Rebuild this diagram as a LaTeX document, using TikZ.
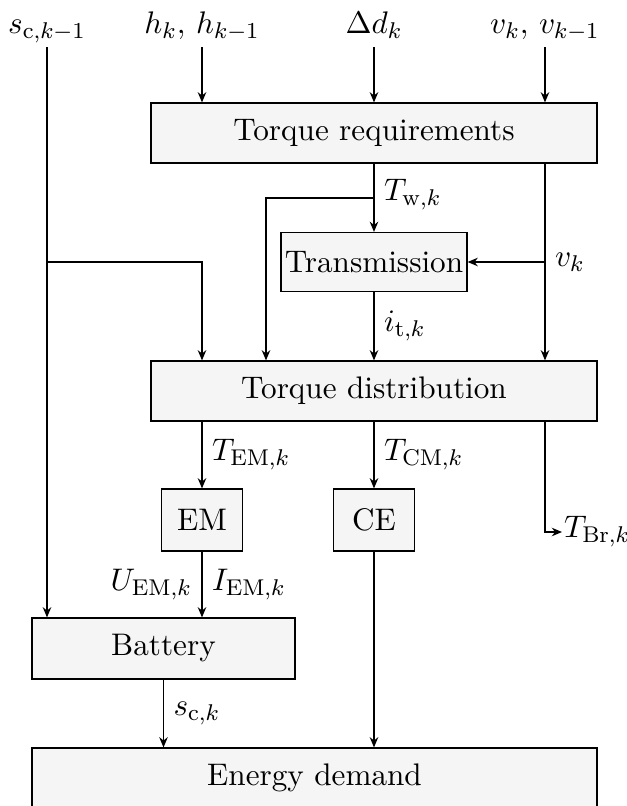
\documentclass[tikz,border=0pt]{standalone}
\usetikzlibrary{arrows.meta}
\begin{document}
\begin{tikzpicture}[x=0.351pt,y=-0.351pt,
  every node/.style={font=\fontsize{10.95}{13.6}\selectfont},
  box/.style={draw, fill=black!4, inner sep=0pt, minimum height=60*0.351pt},
  toplab/.style={anchor=base, text depth=1.5pt},
  lab/.style={anchor=west},
  arr/.style={-{Stealth[length=3.6pt,width=3pt]}},
  line width=0.42pt]
\useasboundingbox (0,0) rectangle (627,806);
% top labels
\node[toplab] (ls) at (47,33) {$s_{\mathrm{c},k-1}$};
\node[toplab] (lh) at (202,33) {$h_k,\, h_{k-1}$};
\node[toplab] (ld) at (374,33) {$\Delta d_k$};
\node[toplab] (lv) at (545,33) {$v_k,\, v_{k-1}$};
% boxes
\node[box, minimum width=446*0.351pt] (tr) at (374,133) {Torque requirements};
\node[box, minimum width=186*0.351pt, minimum height=59*0.351pt] (trans) at (374,262) {Transmission};
\node[box, minimum width=446*0.351pt] (td) at (374,391) {Torque distribution};
\node[box, minimum width=81*0.351pt, minimum height=62*0.351pt] (em) at (202,520) {EM};
\node[box, minimum width=81*0.351pt, minimum height=62*0.351pt] (ce) at (374,520) {CE};
\node[box, minimum width=263*0.351pt, minimum height=61*0.351pt] (bat) at (163.5,648.5) {Battery};
\node[box, minimum width=565*0.351pt] (ed) at (314.5,778) {Energy demand};
% junctions
\coordinate (j1) at (47,262);
\coordinate (j2) at (374,198);
\coordinate (j3) at (266,198);
\coordinate (j4) at (545,262);
% inputs
\draw[arr] (lh.south) -- (lh.south |- tr.north);
\draw[arr] (ld.south) -- (ld.south |- tr.north);
\draw[arr] (lv.south) -- (lv.south |- tr.north);
\draw[arr] (ls.south) -- (ls.south |- bat.north);
\draw[arr] (j1) -| (lh.south |- td.north);
% torque requirements outputs
\draw[arr] (tr.south) -- (trans.north) node[lab, pos=0.45] {$T_{\mathrm{w},k}$};
\draw[arr] (j2) -- (j3) -- (j3 |- td.north);
\draw[arr] (lv.south |- tr.south) -- (lv.south |- td.north);
\draw[arr] (j4) -- (trans.east);
\node[lab] (lvk) at (j4) {$v_k$};
\draw[arr] (trans.south) -- (td.north) node[lab, midway] {$i_{\mathrm{t},k}$};
% torque distribution outputs
\draw[arr] (lh.south |- td.south) -- (em.north) node[lab, midway] {$T_{\mathrm{EM},k}$};
\draw[arr] (td.south) -- (ce.north) node[lab, midway] {$T_{\mathrm{CM},k}$};
\node[anchor=west, inner sep=0.5pt] (tbr) at (562,532) {$T_{\mathrm{Br},k}$};
\draw[arr] (lv.south |- td.south) |- (tbr.west);
% lower part
\draw[arr] (em.south) -- (em.south |- bat.north)
  node[lab, midway] {$I_{\mathrm{EM},k}$}
  node[anchor=east, midway] {$U_{\mathrm{EM},k}$};
\draw[arr] (bat.south) -- (bat.south |- ed.north) node[lab, midway] {$s_{\mathrm{c},k}$};
\draw[arr] (ce.south) -- (ce.south |- ed.north);
\end{tikzpicture}
\end{document}
